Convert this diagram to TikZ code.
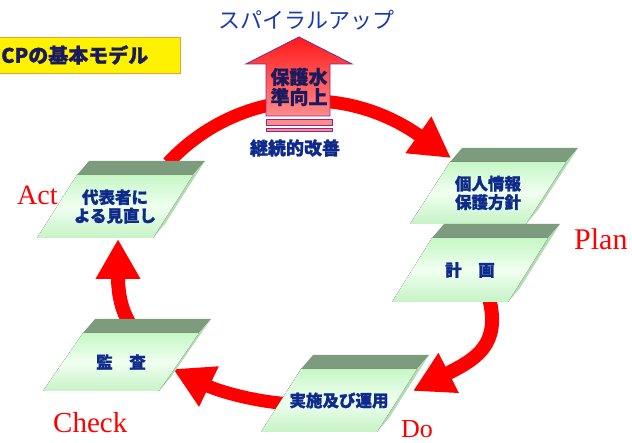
\documentclass[tikz,border=0pt]{standalone}
\usepackage{fontspec}
\setmainfont{Liberation Serif}
\newfontfamily\jp[BoldFeatures={FakeBold=1.2}]{Noto Sans CJK JP}
\usetikzlibrary{arrows.meta,calc}
\definecolor{navy}{HTML}{0D2A8C}
\definecolor{darknavy}{HTML}{1A1A5E}
\definecolor{titleblue}{HTML}{1A3CA8}
\definecolor{bandgreen}{HTML}{7D9B7D}
\definecolor{sidegreen}{HTML}{B2DCB2}
\definecolor{facetop}{HTML}{C6F7C6}
\definecolor{facemid}{HTML}{F0FFF0}
\definecolor{facebot}{HTML}{C6F3C6}
\definecolor{boxorange}{HTML}{F0A030}
\definecolor{arrowpurple}{HTML}{8B2A8B}
\definecolor{arrowpink}{HTML}{FF8C8C}
\tikzset{
  cyclearrow/.style={draw=red, line width=13pt, -{Triangle[length=40pt,width=42pt]}},
  bandface/.style={fill=bandgreen},
  sideface/.style={fill=sidegreen},
  frontface/.style={top color=facetop, bottom color=facebot, middle color=facemid},
  blocktext/.style={text=navy, font=\jp\bfseries\fontsize{16.5}{18.5}\selectfont, align=center, inner sep=0pt},
  pdca/.style={text=red, font=\fontsize{28}{30}\selectfont, anchor=base west, inner sep=0pt},
  ybox/.style={draw=boxorange, fill=yellow, line width=1.2pt},
  uparrow/.style={draw=arrowpurple, line width=0.9pt, top color=red!90, bottom color=arrowpink},
  stripe/.style={draw=arrowpurple, line width=0.8pt, fill=arrowpink},
}
% name, x0, y0, height, text
\newcommand\pdcablock[5]{%
  \path (#2,#3) coordinate (#1-tl) ++(116,0) coordinate (#1-tr)
        ++(-40,#4) coordinate (#1-br) ++(-116,0) coordinate (#1-bl);
  \fill[bandface] (#1-tl) -- (#1-tr) -- ++(12,-14) -- ++(-116,0) -- cycle;
  \fill[sideface] (#1-br) -- (#1-tr) -- ++(12,-14) -- ++(-40,#4) -- cycle;
  \fill[frontface] (#1-tl) -- (#1-tr) -- (#1-br) -- (#1-bl) -- cycle;
  \node[blocktext] (#1) at ($(#1-tl)!0.5!(#1-br)$) {#5};
}
\begin{document}
\begin{tikzpicture}[x=1pt,y=-1pt]
\useasboundingbox (0,0) rectangle (632,443);
\fill[white] (0,0) rectangle (632,443);

% cycle arrows
\coordinate (a1s) at (168,163); \coordinate (a1e) at (451,158);
\coordinate (a2s) at (489,298); \coordinate (a2e) at (413,391);
\coordinate (a3s) at (292,404); \coordinate (a3e) at (173,369);
\coordinate (a4s) at (138,334); \coordinate (a4e) at (118,239);
\draw[cyclearrow] (a1s) .. controls (234,92) and (341,80) .. (a1e);
\draw[cyclearrow, line width=14pt] (a2s) .. controls (501,345) and (476,359) .. (a2e);
\draw[cyclearrow] (a3s) .. controls (255,402) and (218,391) .. (a3e);
\draw[cyclearrow, line width=14pt] (a4s) .. controls (122,318) and (118,295) .. (a4e);

% blocks
\pdcablock{plan1}{450}{162}{62}{個人情報\\保護方針}
\pdcablock{plan2}{432}{238}{64}{計　画}
\pdcablock{act}{77}{175}{63}{代表者に\\よる見直し}
\pdcablock{check}{83}{333}{58}{監　査}
\pdcablock{do}{301}{369}{63}{実施及び運用}

% spiral-up arrow
\draw[uparrow] (299,37) -- (352,64) -- (330,64) -- (330,116) -- (266,116)
  -- (266,64) -- (246,64) -- cycle;
\draw[stripe] (266,119) rectangle (332,125);
\draw[stripe] (266,128) rectangle (332,131);
\node[text=darknavy, font=\jp\bfseries\fontsize{19}{20}\selectfont, align=center, inner sep=0pt]
  (level) at (299,87) {保護水\\準向上};
\node[text=navy, font=\jp\bfseries\fontsize{18}{20}\selectfont, inner sep=0pt]
  (kaizen) at (295,148) {継続的改善};

% title
\node[text=titleblue, font=\jp\fontsize{22}{24}\selectfont, inner sep=0pt]
  (title) at (306,20) {スパイラルアップ};

% model box
\node[ybox, minimum width=181pt, minimum height=36pt, anchor=north west, inner sep=0pt]
  (modelbox) at (-1,37) {};
\node[text=darknavy, font=\jp\bfseries\fontsize{20}{22}\selectfont, anchor=west, inner sep=0pt]
  (modeltext) at (1,55) {CPの基本モデル};

% PDCA labels
\node[pdca] (lact) at (17,205) {Act};
\node[pdca, font=\fontsize{30}{32}\selectfont] (lplan) at (574,250) {Plan};
\node[pdca, font=\fontsize{29}{31}\selectfont] (lcheck) at (53,433) {Check};
\node[pdca, font=\fontsize{26}{28}\selectfont] (ldo) at (401,438) {Do};
\end{tikzpicture}
\end{document}
